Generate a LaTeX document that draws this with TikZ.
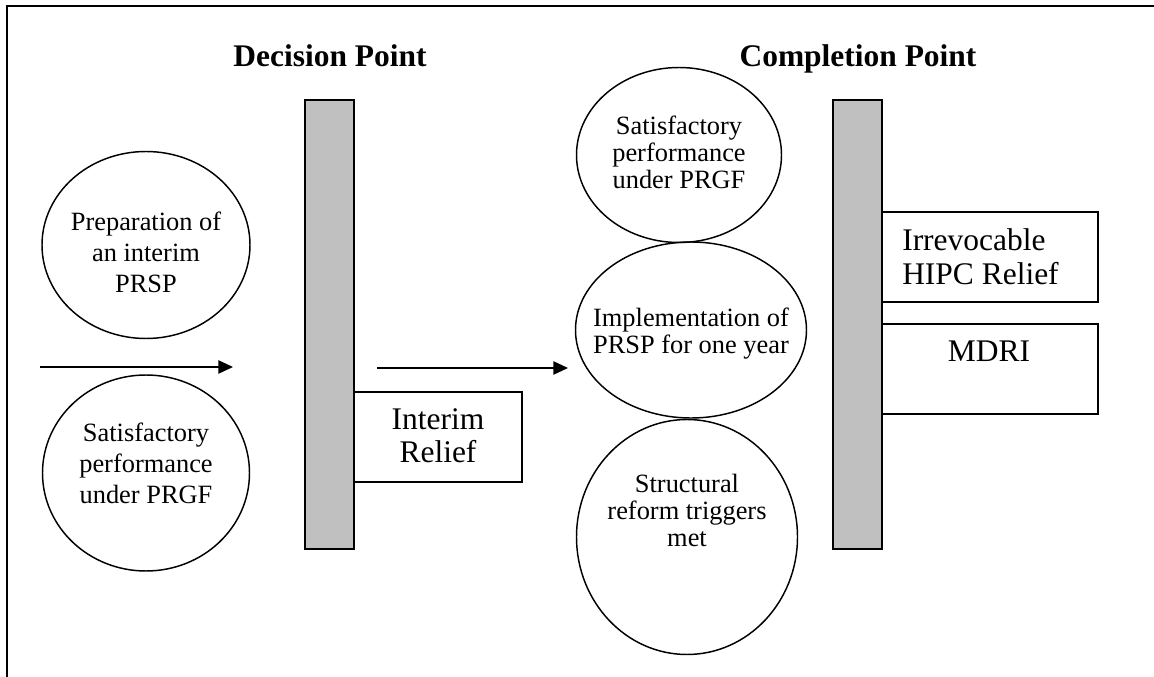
\documentclass[tikz,border=0pt]{standalone}
\usepackage{fontspec}
\setmainfont{Liberation Serif}
\usetikzlibrary{shapes.geometric,arrows.meta,fit}
\begin{document}
\begin{tikzpicture}[x=0.75pt,y=-0.75pt,
  ln/.style={line width=1.1pt},
  ell/.style={ln,draw,ellipse,inner sep=0pt},
  bar/.style={ln,draw,fill=gray75,inner sep=0pt},
  box/.style={ln,draw,fill=white,inner sep=0pt},
  small/.style={inner sep=0pt,align=center,font=\fontsize{19.8pt}{20.25pt}\selectfont},
  smallw/.style={inner sep=0pt,align=center,font=\fontsize{19.8pt}{23.25pt}\selectfont},
  big/.style={inner sep=0pt,font=\fontsize{23.6pt}{25.5pt}\selectfont},
  title/.style={inner sep=0pt,anchor=base,font=\bfseries\fontsize{23.6pt}{25pt}\selectfont},
  arr/.style={ln,-{Triangle[length=11pt,width=10pt]}}]
\definecolor{gray75}{HTML}{C0C0C0}
\useasboundingbox (0,0) rectangle (1154,677);
% frame
\coordinate (fb) at (7,677);
\coordinate (fc) at (7,6);
\coordinate (fr) at (1154,6);
\draw[ln] (fb) -- (fc) -- (fr);
% titles
\node[title] (tdp) at (330,67) {Decision Point};
\node[title] (tcp) at (858,67) {Completion Point};
% bars
\node[bar,fit={(305,100) (354,549)}] (dp) {};
\node[bar,fit={(833,100) (882,549)}] (cp) {};
% boxes
\node[box,fit={(354,392) (522,482)}] (bir) {};
\node[big,align=center,font=\fontsize{23.6pt}{24.75pt}\selectfont] (tir) at (438,436) {Interim\\Relief};
\node[box,fit={(882,212) (1098,302)}] (bhipc) {};
\node[big,align=left,anchor=west] (thipc) at (902,256.5) {Irrevocable\\HIPC Relief};
\node[box,fit={(882,324) (1098,414)}] (bmdri) {};
\node[big,anchor=base] (tmdri) at (989,362) {MDRI};
% left circles
\node[ell,minimum width=156pt,minimum height=140.25pt] (c1) at (146,245) {};
\node[smallw] (tc1) at (146,252) {Preparation of\\an interim\\PRSP};
\node[ell,minimum width=155.25pt,minimum height=147pt] (c2) at (146,473) {};
\node[smallw] (tc2) at (146,463) {Satisfactory\\performance\\under PRGF};
% middle ellipses
\node[ell,minimum width=153.75pt,minimum height=131.25pt] (e1) at (679,155) {};
\node[small] (te1) at (679,152.5) {Satisfactory\\performance\\under PRGF};
\node[ell,minimum width=173.25pt,minimum height=132pt] (e2) at (691,330) {};
\node[small] (te2) at (691,334) {Implementation of\\PRSP for one year};
\node[ell,minimum width=165.75pt,minimum height=176.25pt] (e3) at (687,537) {};
\node[small] (te3) at (687,510) {Structural\\reform triggers\\met};
% arrows
\coordinate (a1s) at (40,367);
\coordinate (a1e) at (233,367);
\draw[arr] (a1s) -- (a1e);
\coordinate (a2s) at (377,368);
\coordinate (a2e) at (568,368);
\draw[arr] (a2s) -- (a2e);
\end{tikzpicture}
\end{document}
